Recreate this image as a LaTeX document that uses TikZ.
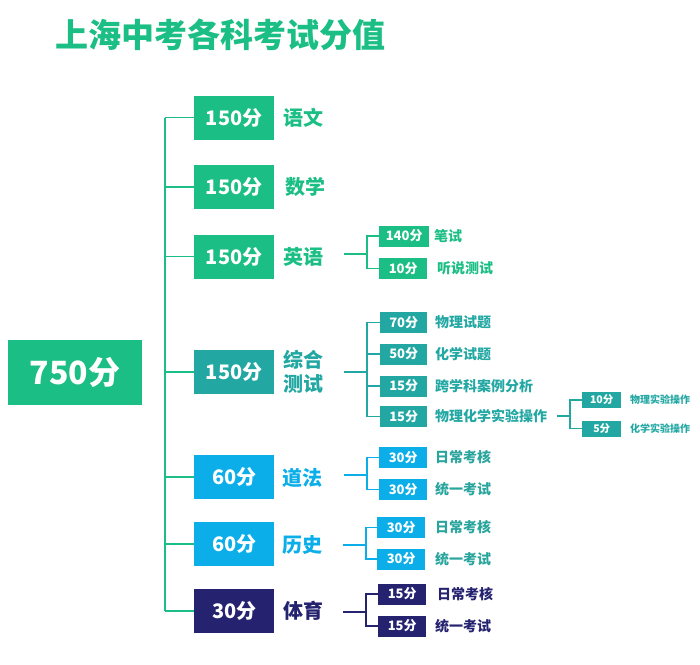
\documentclass[tikz,border=0pt]{standalone}
\usepackage{fontspec}
\setmainfont{Noto Sans CJK SC}
\definecolor{cg}{HTML}{1BBE84}
\definecolor{ct}{HTML}{22A7A3}
\definecolor{cb}{HTML}{0BAEE8}
\definecolor{cn}{HTML}{25236F}
\definecolor{ctx}{HTML}{2AA59E}
\tikzset{
  bigbox/.style={fill=cg, text=white, font=\bfseries\fontsize{32}{32}\selectfont, minimum width=134pt, minimum height=65pt, inner sep=0pt},
  lone/.style={text=white, font=\bfseries\fontsize{20}{20}\selectfont, minimum width=80pt, minimum height=44pt, inner sep=0pt, anchor=west},
  ltwo/.style={text=white, font=\bfseries\fontsize{13}{13}\selectfont, minimum width=48pt, minimum height=21pt, inner sep=0pt, anchor=west},
  lthree/.style={text=white, font=\bfseries\fontsize{10.5}{10.5}\selectfont, minimum width=39pt, minimum height=16pt, inner sep=0pt, anchor=west},
  lab/.style={anchor=west, inner sep=0pt, font=\bfseries\fontsize{20}{20}\selectfont},
  slab/.style={anchor=west, inner sep=0pt, font=\bfseries\fontsize{14}{14}\selectfont},
  tlab/.style={anchor=west, inner sep=0pt, font=\bfseries\fontsize{10}{10}\selectfont},
  conn/.style={line width=1.4pt}
}
\begin{document}
\begin{tikzpicture}[x=1pt,y=-1pt]
\useasboundingbox (0,0) rectangle (700,664);
% title
\node[anchor=west, inner sep=0pt, text=cg, font=\bfseries\fontsize{33}{33}\selectfont] (title) at (55,35) {上海中考各科考试分值};
% root
\node[bigbox] (root) at (75,372.5) {750分};
% level 1
\node[lone, fill=cg] (b1) at (194,117.5) {150分};
\node[lone, fill=cg] (b2) at (194,187) {150分};
\node[lone, fill=cg] (b3) at (194,256.5) {150分};
\node[lone, fill=ct] (b4) at (194,372) {150分};
\node[lone, fill=cb] (b5) at (194,477) {60分};
\node[lone, fill=cb] (b6) at (194,544) {60分};
\node[lone, fill=cn] (b7) at (194,611) {30分};
\node[lab, text=cg] (l1) at (283,118) {语文};
\node[lab, text=cg] (l2) at (285,187) {数学};
\node[lab, text=cg] (l3) at (283,257) {英语};
\node[lab, text=ct, align=left, font=\bfseries\fontsize{20}{24}\selectfont] (l4) at (283,372) {综合\\测试};
\node[lab, text=cb] (l5) at (282,478) {道法};
\node[lab, text=cb] (l6) at (282,545) {历史};
\node[lab, text=cn] (l7) at (283,611) {体育};
% trunk
\coordinate (tr) at (165,0);
\draw[conn, cg] (b1.west -| tr) -- (b7.west -| tr);
\foreach \i in {1,...,7}{\draw[conn, cg] (b\i.west -| tr) -- (b\i.west);}
% English
\node[ltwo, fill=cg, minimum width=50pt] (e1) at (379,236) {140分};
\node[ltwo, fill=cg] (e2) at (379,268.5) {10分};
\node[slab, text=cg] (el1) at (434,236) {笔试};
\node[slab, text=cg] (el2) at (437,268.5) {听说测试};
\coordinate (e0) at (344,254);
\coordinate (ej) at (367,254);
\draw[conn, cg] (e0) -- (ej);
\draw[conn, cg] (ej) |- (e1.west);
\draw[conn, cg] (ej) |- (e2.west);
% Zonghe
\node[ltwo, fill=ct, minimum width=47pt] (z1) at (380,322.5) {70分};
\node[ltwo, fill=ct, minimum width=47pt] (z2) at (380,354) {50分};
\node[ltwo, fill=ct, minimum width=47pt] (z3) at (380,386) {15分};
\node[ltwo, fill=ct, minimum width=47pt] (z4) at (380,416.5) {15分};
\node[slab, text=ct] (zl1) at (435,322.5) {物理试题};
\node[slab, text=ct] (zl2) at (435,354) {化学试题};
\node[slab, text=ct] (zl3) at (435,386) {跨学科案例分析};
\node[slab, text=ct] (zl4) at (435,416.5) {物理化学实验操作};
\coordinate (z0) at (344,372);
\coordinate (zj) at (367,372);
\draw[conn, ct] (z0) -- (zj);
\foreach \i in {1,...,4}{\draw[conn, ct] (zj) |- (z\i.west);}
% sub-sub
\node[lthree, fill=ct] (x1) at (582,400) {10分};
\node[lthree, fill=ct] (x2) at (582,428.5) {5分};
\node[tlab, text=ct] (xl1) at (630,400) {物理实验操作};
\node[tlab, text=ct] (xl2) at (630,428.5) {化学实验操作};
\coordinate (x0) at (557,416);
\coordinate (xj) at (570,416);
\draw[conn, ct] (x0) -- (xj);
\draw[conn, ct] (xj) |- (x1.west);
\draw[conn, ct] (xj) |- (x2.west);
% Daofa
\node[ltwo, fill=cb] (d1) at (379,457.5) {30分};
\node[ltwo, fill=cb] (d2) at (379,489.5) {30分};
\node[slab, text=ctx] (dl1) at (435,457.5) {日常考核};
\node[slab, text=ctx] (dl2) at (435,489.5) {统一考试};
\coordinate (d0) at (344,475);
\coordinate (dj) at (367,475);
\draw[conn, cb] (d0) -- (dj);
\draw[conn, cb] (dj) |- (d1.west);
\draw[conn, cb] (dj) |- (d2.west);
% Lishi
\node[ltwo, fill=cb] (h1) at (377,527.5) {30分};
\node[ltwo, fill=cb] (h2) at (377,559) {30分};
\node[slab, text=ctx] (hl1) at (435,527.5) {日常考核};
\node[slab, text=ctx] (hl2) at (435,559) {统一考试};
\coordinate (h0) at (343,545);
\coordinate (hj) at (366,545);
\draw[conn, cb] (h0) -- (hj);
\draw[conn, cb] (hj) |- (h1.west);
\draw[conn, cb] (hj) |- (h2.west);
% Tiyu
\node[ltwo, fill=cn] (p1) at (378,594) {15分};
\node[ltwo, fill=cn] (p2) at (378,626) {15分};
\node[slab, text=cn] (pl1) at (437,594) {日常考核};
\node[slab, text=cn] (pl2) at (435,626) {统一考试};
\coordinate (p0) at (343,612);
\coordinate (pj) at (366,612);
\draw[conn, cn] (p0) -- (pj);
\draw[conn, cn] (pj) |- (p1.west);
\draw[conn, cn] (pj) |- (p2.west);
\end{tikzpicture}
\end{document}
